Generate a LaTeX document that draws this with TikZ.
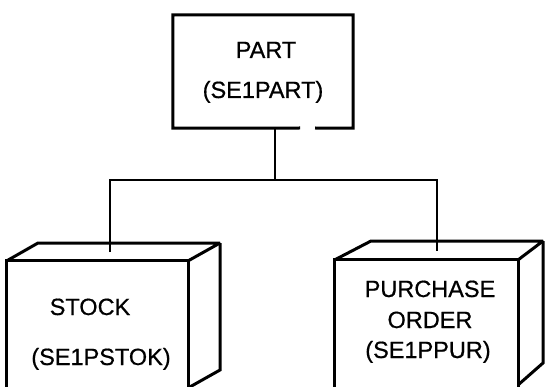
\documentclass[tikz,border=0pt]{standalone}
\usepackage{fontspec}
\setmainfont{Liberation Sans}
\newfontfamily\lblfont{Liberation Sans}[FakeBold=0.6]
\begin{document}
\begin{tikzpicture}[x=1pt,y=-1pt,
  boxline/.style={line width=3pt, line join=miter, miter limit=2},
  conn/.style={line width=1.8pt},
  lbl/.style={anchor=base, inner sep=0pt, font=\lblfont\fontsize{23.5}{27}\selectfont}]
\useasboundingbox (0,0) rectangle (545,387);
% PART box
\node[minimum width=180pt, minimum height=113pt, inner sep=0pt] (part) at (263,71.5) {};
\draw[boxline] (300,128) -- (part.south west) -- (part.north west) -- (part.north east) -- (part.south east) -- (315,128);
\node[lbl] (partname) at (266,58) {PART};
\node[lbl] (partcode) at (263,98) {(SE1PART)};
% STOCK box
\node[minimum width=181pt, minimum height=140pt, inner sep=0pt] (stock) at (97.5,331) {};
\draw[boxline] (stock.south west) -- (stock.north west) -- (stock.north east) -- (stock.south east);
\draw[boxline] (stock.north west) -- (38,243) -- (220,243) -- (stock.north east);
\draw[boxline] (220,243) -- (220,370) -- (188,388);
\node[lbl] (stockname) at (90,315) {STOCK};
\node[lbl] (stockcode) at (101,365) {(SE1PSTOK)};
% PURCHASE ORDER box
\node[minimum width=183pt, minimum height=140pt, inner sep=0pt] (pur) at (426.5,330) {};
\draw[boxline] (pur.south west) -- (pur.north west) -- (pur.north east) -- (pur.south east);
\draw[boxline] (pur.north west) -- (371,241) -- (543,241) -- (pur.north east);
\draw[boxline] (543,241) -- (543,363) -- (518,385);
\node[lbl] (purname) at (430,297) {PURCHASE};
\node[lbl] (purorder) at (430,328) {ORDER};
\node[lbl] (purcode) at (428,358) {(SE1PPUR)};
% connectors
\coordinate (j) at (275,180);
\coordinate (stocktop) at (110,252);
\coordinate (purtop) at (437,251);
\draw[conn] (part.south -| j) -- (j);
\draw[conn] (stocktop) |- (j) -| (purtop);
\end{tikzpicture}
\end{document}
